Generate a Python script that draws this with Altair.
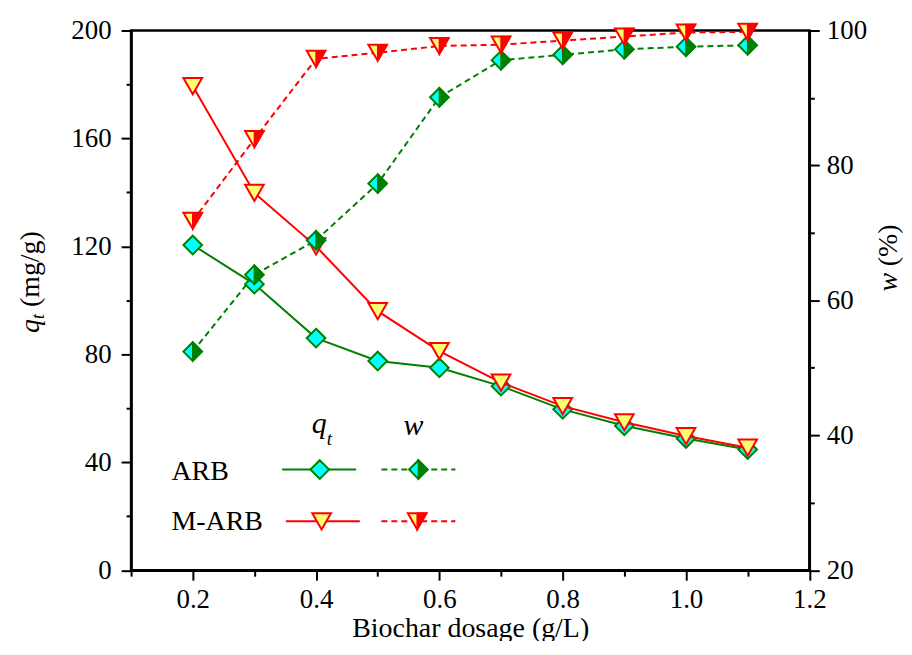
import altair as alt
import pandas as pd

# ---------------- data ----------------
dosage = [0.2, 0.3, 0.4, 0.5, 0.6, 0.7, 0.8, 0.9, 1.0, 1.1]
qt_arb = [120.5, 106.0, 86.0, 77.5, 75.0, 68.2, 59.6, 53.5, 48.8, 44.7]
qt_marb = [179.4, 139.8, 120.0, 96.0, 81.2, 69.5, 60.8, 54.8, 49.7, 45.4]
w_arb = [52.4, 63.8, 68.9, 77.3, 90.1, 95.6, 96.4, 97.2, 97.6, 97.8]
w_marb = [71.8, 83.9, 95.8, 96.7, 97.7, 97.9, 98.5, 99.1, 99.7, 99.8]

x_ticks = [0.1, 0.2, 0.3, 0.4, 0.5, 0.6, 0.7, 0.8, 0.9, 1.0, 1.1, 1.2]
q_ticks = [0, 20, 40, 60, 80, 100, 120, 140, 160, 180, 200]
w_ticks = [20, 30, 40, 50, 60, 70, 80, 90, 100]

# ---------------- styles ----------------
FONT = "Liberation Serif"
GREEN = "#008000"
CYAN = "#00FFFF"
RED = "#FF0000"
YELLOW = "#FFFF73"
DIAMOND = "M0,-1L1,0L0,1L-1,0Z"
DIAMOND_R = "M0,-1L1,0L0,1Z"
TRI = "M-1,-0.866L1,-0.866L0,0.866Z"
TRI_R = "M0,-0.866L1,-0.866L0,0.866Z"
MSIZE = 350
DASH = [6, 4]

df_q_arb = pd.DataFrame({"dose": dosage, "val": qt_arb})
df_q_marb = pd.DataFrame({"dose": dosage, "val": qt_marb})
df_w_arb = pd.DataFrame({"dose": dosage, "val": w_arb})
df_w_marb = pd.DataFrame({"dose": dosage, "val": w_marb})

x_axis = alt.Axis(
    values=x_ticks, format=".1f",
    labelExpr="round(datum.value*10) % 2 == 0 ? datum.label : ''",
    tickSize={"condition": {"test": "round(datum.value*10) % 2 == 0", "value": 10}, "value": 6},
    labelPadding=6, labelFlush=False, labelOverlap=False,
    title="Biochar dosage (g/L)", titleFontSize=28, titlePadding=3,
)
yq_axis = alt.Axis(
    orient="left", values=q_ticks, format="d",
    labelExpr="datum.value % 40 == 0 ? datum.label : ''",
    tickSize={"condition": {"test": "datum.value % 40 == 0", "value": 10}, "value": 5},
    labelPadding=10, labelFlush=False, labelOverlap=False, title=None,
)
yw_axis = alt.Axis(
    orient="right", values=w_ticks, format="d",
    labelExpr="datum.value % 20 == 0 ? datum.label : ''",
    tickSize={"condition": {"test": "datum.value % 20 == 0", "value": 10}, "value": 5},
    labelPadding=7, labelFlush=False, labelOverlap=False, title=None,
)

x_enc = alt.X("dose:Q", scale=alt.Scale(domain=[0.1, 1.2], nice=False, zero=False), axis=x_axis)
yq_enc = alt.Y("val:Q", scale=alt.Scale(domain=[0, 200], nice=False, zero=False), axis=yq_axis)
yw_enc = alt.Y("val:Q", scale=alt.Scale(domain=[20, 100], nice=False, zero=False), axis=yw_axis)


def line(df, y, color, dash=None):
    kw = dict(color=color, strokeWidth=2)
    if dash:
        kw["strokeDash"] = dash
    return alt.Chart(df).mark_line(**kw).encode(x=x_enc, y=y)


def pts(df, y, shape, fill, stroke, sw=2):
    return alt.Chart(df).mark_point(
        shape=shape, filled=True, fill=fill, stroke=stroke, strokeWidth=sw,
        size=MSIZE, opacity=1, fillOpacity=1, strokeOpacity=1, strokeJoin="miter"
    ).encode(x=x_enc, y=y)


one = pd.DataFrame({"k": [0]})


def label(text, x, y, size, italic=False, angle=0, align="left"):
    return alt.Chart(one).mark_text(
        text=text, font=FONT, fontSize=size, fontStyle="italic" if italic else "normal",
        angle=angle, align=align, baseline="alphabetic", color="black"
    ).encode(x=alt.value(x), y=alt.value(y))


# legend (positions in data units of the left axis)
def seg(x0, x1, y):
    return pd.DataFrame({"dose": [x0, x1], "val": [y, y]})


def pt(x, y):
    return pd.DataFrame({"dose": [x], "val": [y]})


def dtext(text, x, y, size, italic=False):
    return alt.Chart(pt(x, y)).mark_text(
        text=text, font=FONT, fontSize=size, fontStyle="italic" if italic else "normal",
        align="left", baseline="alphabetic", color="black"
    ).encode(x=x_enc, y=yq_enc)


ROW1, ROW2 = 37.3, 18.1
legend = [
    line(seg(0.345, 0.465, ROW1), yq_enc, GREEN),
    pts(pt(0.406, ROW1), yq_enc, DIAMOND, CYAN, GREEN),
    line(seg(0.506, 0.626, ROW1), yq_enc, GREEN, DASH),
    pts(pt(0.566, ROW1), yq_enc, DIAMOND, CYAN, GREEN),
    pts(pt(0.566, ROW1), yq_enc, DIAMOND_R, GREEN, GREEN, 1.5),
    line(seg(0.351, 0.471, ROW2), yq_enc, RED),
    pts(pt(0.409, ROW2), yq_enc, TRI, YELLOW, RED),
    line(seg(0.506, 0.626, ROW2), yq_enc, RED, DASH),
    pts(pt(0.564, ROW2), yq_enc, TRI, YELLOW, RED),
    pts(pt(0.564, ROW2), yq_enc, TRI_R, RED, RED, 1.5),
    dtext("ARB", 0.1654, 33.6, 28),
    dtext("M-ARB", 0.1654, 14.8, 28),
    dtext("q", 0.393, 51.0, 30, True),
    dtext("t", 0.4175, 46.4, 19, True),
    dtext("w", 0.5419, 50.2, 30, True),
]

titles = [
    label("q", -92.5, 303.5, 28, True, 270),
    label("t", -87.5, 289.5, 18, True, 270),
    label("(mg/g)", -92.5, 277.5, 28, False, 270),
    label("w", 768.0, 262.0, 28, True, 270),
    label("(%)", 768.0, 236.5, 28, False, 270),
]

q_group = alt.layer(
    line(df_q_arb, yq_enc, GREEN),
    pts(df_q_arb, yq_enc, DIAMOND, CYAN, GREEN),
    line(df_q_marb, yq_enc, RED),
    pts(df_q_marb, yq_enc, TRI, YELLOW, RED),
    *legend,
    *titles,
)

w_group = alt.layer(
    line(df_w_arb, yw_enc, GREEN, DASH),
    pts(df_w_arb, yw_enc, DIAMOND, CYAN, GREEN),
    pts(df_w_arb, yw_enc, DIAMOND_R, GREEN, GREEN, 1.5),
    line(df_w_marb, yw_enc, RED, DASH),
    pts(df_w_marb, yw_enc, TRI, YELLOW, RED),
    pts(df_w_marb, yw_enc, TRI_R, RED, RED, 1.5),
)

chart = (
    alt.layer(q_group, w_group)
    .resolve_scale(y="independent")
    .properties(
        width=680.5, height=541.5,
        padding={"left": 123.5, "top": 21.5, "right": 95, "bottom": 70},
        autosize=alt.AutoSizeParams(type="none"),
        background="white",
    )
    .configure_view(stroke="black", strokeWidth=2.5)
    .configure_axis(
        domainColor="black", domainWidth=2.5, tickColor="black", tickWidth=2,
        labelFont=FONT, labelFontSize=27, labelColor="black",
        titleFont=FONT, titleFontWeight="normal", titleColor="black", grid=False,
    )
)

chart.save("out.html", embed_options={"renderer": "svg", "actions": False})
